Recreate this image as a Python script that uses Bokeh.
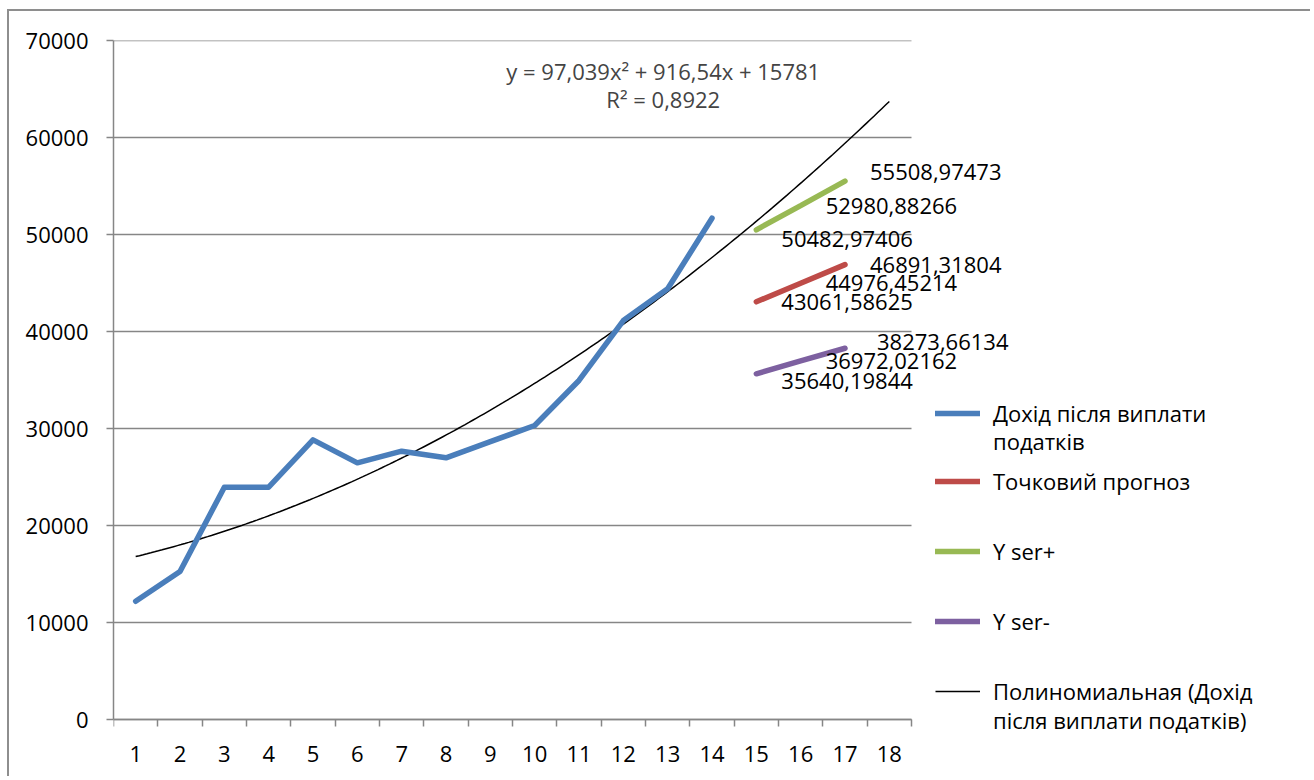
import numpy as np
from bokeh.plotting import figure
from bokeh.models import (Range1d, FixedTicker, Legend, LegendItem, Label,
                          LabelSet, ColumnDataSource)
from bokeh.core.properties import value
from bokeh.embed import file_html
from bokeh.resources import INLINE

# ---------------- data ----------------
periods = list(range(1, 15))
income = [12190, 15250, 23950, 23950, 28830, 26460, 27660, 26980, 28640,
          30310, 34950, 41130, 44400, 51680]
forecast_periods = [15, 16, 17]
point_forecast = [43061.58625, 44976.45214, 46891.31804]
y_ser_plus = [50482.97406, 52980.88266, 55508.97473]
y_ser_minus = [35640.19844, 36972.02162, 38273.66134]
x_labels = [str(i) for i in range(1, 19)]
y_ticks = [0, 10000, 20000, 30000, 40000, 50000, 60000, 70000]
trend_a, trend_b, trend_c = 97.039, 916.54, 15781.0   # y = a x^2 + b x + c
trend_text = "y = 97,039x² + 916,54x + 15781"
r2_text = "R² = 0,8922"

legend_names = ["Дохід після виплати", "податків", "Точковий прогноз", "Y ser+",
                "Y ser-", "Полиномиальная (Дохід", "після виплати податків)"]

# ---------------- style ----------------
FONT = "Open Sans"
FS = "22px"
GRAY = "#868686"
BLUE = "#4A7EBB"
RED = "#BE4B48"
GREEN = "#98B954"
PURPLE = "#7D60A0"

n_cat = len(x_labels)
x_lo, x_hi = 0.5, n_cat + 0.5
# category axis occupies 798 px of the 1199 px frame; the rest holds labels/legend
x_view_end = x_lo + (x_hi - x_lo) * 1199.0 / 798.0
y_lo, y_hi = y_ticks[0], y_ticks[-1]
# value axis occupies 679 px of the 738 px frame; the rest holds axis labels
y_view_start = y_lo - (y_hi - y_lo) * 59.0 / 679.0

p = figure(width=1303, height=767, output_backend="svg", toolbar_location=None,
           x_range=Range1d(x_lo, x_view_end), y_range=Range1d(y_view_start, y_hi),
           min_border_left=104, min_border_right=0, min_border_top=29,
           min_border_bottom=0)
p.styles = {"margin-left": "7px", "margin-top": "9px",
            "border-top": "2px solid #8e8e8e", "border-left": "2px solid #8e8e8e"}
p.outline_line_color = None
p.background_fill_color = "white"
p.border_fill_color = "white"
p.xgrid.grid_line_color = None
p.ygrid.grid_line_color = None

# axes
p.xaxis.fixed_location = y_lo
p.xaxis.bounds = (x_lo, x_hi)
p.xaxis.ticker = FixedTicker(ticks=list(range(1, n_cat + 1)),
                             minor_ticks=[i + 0.5 for i in range(0, n_cat + 1)])
p.xaxis.major_label_overrides = {i + 1: lab for i, lab in enumerate(x_labels)}
p.xaxis.major_tick_line_color = None
p.xaxis.major_tick_out = 7
p.xaxis.minor_tick_line_color = GRAY
p.xaxis.minor_tick_line_width = 1.5
p.xaxis.minor_tick_out = 7
p.xaxis.minor_tick_in = 0
p.xaxis.major_label_standoff = 19

p.yaxis.bounds = (y_lo, y_hi)
p.yaxis.ticker = FixedTicker(ticks=y_ticks)
p.yaxis.major_label_overrides = {t: str(t) for t in y_ticks}
p.yaxis.major_tick_line_color = GRAY
p.yaxis.major_tick_line_width = 1.5
p.yaxis.major_tick_out = 7
p.yaxis.major_tick_in = 0
p.yaxis.minor_tick_line_color = None
p.yaxis.major_label_standoff = 18

for ax in (p.xaxis, p.yaxis):
    ax.axis_line_color = GRAY
    ax.axis_line_width = 1.5
    ax.major_label_text_font = FONT
    ax.major_label_text_font_size = FS
    ax.major_label_text_color = "black"

# horizontal gridlines limited to the category area
p.segment(x0=[x_lo] * len(y_ticks), x1=[x_hi] * len(y_ticks), y0=y_ticks,
          y1=y_ticks, line_color=GRAY, line_width=1.5, level="underlay")

# trend line (from the displayed polynomial equation)
tx = np.linspace(1, n_cat, 200)
ty = trend_a * tx ** 2 + trend_b * tx + trend_c
r_trend = p.line(tx, ty, line_color="black", line_width=1.5)

# series
r_income = p.line(periods, income, line_color=BLUE, line_width=5.5, line_cap="round",
                  line_join="round")
r_fc = p.line(forecast_periods, point_forecast, line_color=RED, line_width=5.5,
              line_cap="round")
r_plus = p.line(forecast_periods, y_ser_plus, line_color=GREEN, line_width=5.5,
                line_cap="round")
r_minus = p.line(forecast_periods, y_ser_minus, line_color=PURPLE, line_width=5.5,
                 line_cap="round")
r_dummy = p.line([], [], line_alpha=0)

# data labels
def fmt(v):
    return ("%.5f" % v).replace(".", ",")

lab_x = forecast_periods * 3
lab_y = y_ser_plus + point_forecast + y_ser_minus
lab_t = [fmt(v) for v in lab_y]
lab_dx = [25, 25, 25, 25, 25, 25, 25, 25, 32]
lab_dy = [-9, 0, 9, 0, 0, 0, -7, 0, 6]
src = ColumnDataSource(dict(x=lab_x, y=lab_y, text=lab_t, dx=lab_dx, dy=lab_dy))
p.add_layout(LabelSet(x="x", y="y", text="text", source=src, x_offset="dx",
                      y_offset="dy", text_align="left", text_baseline="middle",
                      text_font=value(FONT), text_font_size=value(FS),
                      text_color="black"))

# trend equation
p.add_layout(Label(x=12.9, y=66850, text=trend_text, text_align="center",
                   text_baseline="middle", text_font=FONT, text_font_size=FS))
p.add_layout(Label(x=12.9, y=63950, text=r2_text, text_align="center",
                   text_baseline="middle", text_font=FONT, text_font_size=FS))

# legend, one block per text line (frame bottom sits 59 px below the zero line)
legend_renderers = [r_income, r_dummy, r_fc, r_plus, r_minus, r_trend, r_dummy]
legend_rows = [413, 441, 481, 551, 621, 691, 720]
for name, rend, row in zip(legend_names, legend_renderers, legend_rows):
    lg = Legend(items=[LegendItem(label=name, renderers=[rend])],
                location=(822, 761 - row), padding=0, margin=0, spacing=0,
                glyph_width=45, glyph_height=34, label_height=34,
                label_standoff=13, border_line_color=None,
                background_fill_alpha=0, label_text_font=FONT,
                label_text_font_size=FS, label_text_color="black")
    p.add_layout(lg, "center")

open("out.html", "w").write(file_html(p, INLINE))
